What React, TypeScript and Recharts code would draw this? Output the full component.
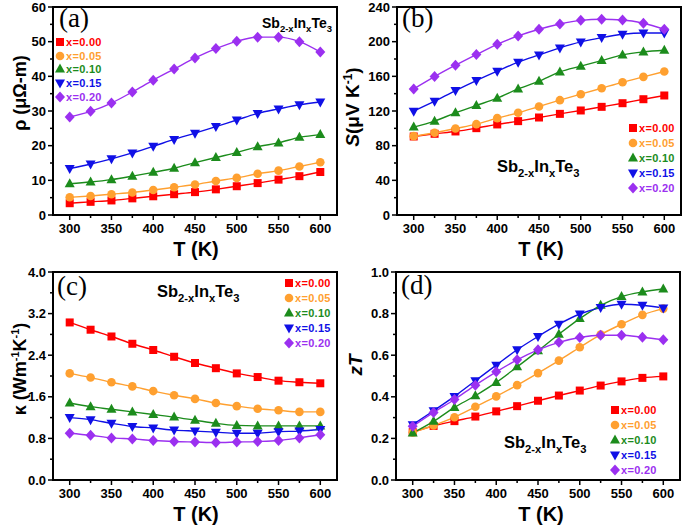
import { LineChart, Line, XAxis, YAxis, ReferenceArea, Legend } from "recharts";

const TEMPS = [300, 325, 350, 375, 400, 425, 450, 475, 500, 525, 550, 575, 600];
const SERIES_NAMES = ["x=0.00", "x=0.05", "x=0.10", "x=0.15", "x=0.20"];
const COLORS = ["#ff0000", "#ffa030", "#1c8c1c", "#1010e6", "#9b30f0"];
const SHAPES = ["square", "circle", "triangle", "down", "diamond"];

// resistivity, uOhm-m
const RHO = [
  [3.4, 3.8, 4.2, 4.8, 5.4, 6.0, 6.6, 7.4, 8.3, 9.2, 10.2, 11.2, 12.4],
  [5.1, 5.5, 6.0, 6.5, 7.2, 8.0, 8.8, 9.8, 10.7, 11.9, 12.8, 14.0, 15.2],
  [9.0, 9.5, 10.2, 11.2, 12.3, 13.5, 15.1, 16.6, 18.0, 19.7, 20.8, 22.4, 23.2],
  [13.4, 14.7, 16.2, 17.9, 19.8, 21.8, 23.6, 25.5, 27.4, 29.3, 30.6, 31.8, 32.6],
  [28.3, 29.9, 32.3, 35.5, 38.9, 42.1, 45.3, 48.0, 50.1, 51.3, 51.3, 50.0, 47.0],
];

// Seebeck, uV/K
const SEEBECK = [
  [90.6, 93.7, 96.4, 100.2, 104.5, 108.3, 112.5, 116.7, 120.6, 124.8, 129.0, 133.6, 137.9],
  [91.0, 94.9, 99.8, 104.8, 111.8, 117.9, 125.2, 132.5, 139.4, 146.3, 153.2, 159.4, 165.5],
  [101.4, 108.3, 117.9, 126.3, 134.8, 145.5, 154.4, 165.1, 171.7, 178.2, 184.7, 188.2, 190.1],
  [119.8, 131.3, 143.6, 155.1, 165.9, 176.3, 184.7, 192.8, 199.7, 204.7, 208.5, 210.0, 210.0],
  [145.5, 159.7, 172.8, 185.1, 197.0, 206.6, 214.3, 220.4, 224.6, 225.8, 225.0, 221.2, 214.3],
];

// thermal conductivity, W/mK
const KAPPA = [
  [3.03, 2.89, 2.76, 2.62, 2.5, 2.37, 2.25, 2.15, 2.05, 1.98, 1.91, 1.88, 1.86],
  [2.05, 1.97, 1.88, 1.8, 1.71, 1.63, 1.56, 1.48, 1.42, 1.37, 1.34, 1.31, 1.31],
  [1.48, 1.41, 1.36, 1.31, 1.26, 1.21, 1.15, 1.09, 1.05, 1.04, 1.04, 1.04, 1.04],
  [1.2, 1.16, 1.09, 1.03, 1.0, 0.96, 0.94, 0.92, 0.9, 0.9, 0.93, 0.94, 0.97],
  [0.9, 0.86, 0.81, 0.79, 0.76, 0.74, 0.73, 0.72, 0.73, 0.74, 0.76, 0.81, 0.87],
];

const ZT = [
  [0.23, 0.26, 0.283, 0.305, 0.33, 0.355, 0.381, 0.406, 0.43, 0.454, 0.474, 0.491, 0.498],
  [0.229, 0.262, 0.302, 0.352, 0.402, 0.456, 0.514, 0.574, 0.638, 0.699, 0.749, 0.794, 0.824],
  [0.226, 0.282, 0.349, 0.405, 0.469, 0.544, 0.621, 0.701, 0.776, 0.84, 0.882, 0.904, 0.918],
  [0.266, 0.333, 0.402, 0.477, 0.552, 0.626, 0.69, 0.749, 0.798, 0.829, 0.845, 0.84, 0.827],
  [0.258, 0.325, 0.387, 0.456, 0.52, 0.578, 0.626, 0.662, 0.685, 0.696, 0.696, 0.686, 0.674],
];

const X_TICKS = [300, 325, 350, 375, 400, 425, 450, 475, 500, 525, 550, 575, 600];
const RHO_TICKS = [0, 5, 10, 15, 20, 25, 30, 35, 40, 45, 50, 55, 60];
const S_TICKS = [0, 20, 40, 60, 80, 100, 120, 140, 160, 180, 200, 220, 240];
const K_TICKS = [0, 0.4, 0.8, 1.2, 1.6, 2.0, 2.4, 2.8, 3.2, 3.6, 4.0];
const ZT_TICKS = [0, 0.1, 0.2, 0.3, 0.4, 0.5, 0.6, 0.7, 0.8, 0.9, 1.0];

const FONT = "Arial, 'Liberation Sans', sans-serif";

function buildRows(values: number[][]) {
  return TEMPS.map((t, i) => {
    const row: any = { T: t };
    values.forEach((s, k) => (row["s" + k] = s[i]));
    return row;
  });
}

function Marker({ cx, cy, shape, color }: any) {
  if (cx == null || cy == null) return null;
  if (shape === "square")
    return <rect x={cx - 4} y={cy - 4} width={8} height={8} fill={color} />;
  if (shape === "circle") return <circle cx={cx} cy={cy} r={4.3} fill={color} />;
  if (shape === "triangle")
    return <polygon points={`${cx},${cy - 5.5} ${cx - 5},${cy + 3.5} ${cx + 5},${cy + 3.5}`} fill={color} />;
  if (shape === "down")
    return <polygon points={`${cx},${cy + 5.5} ${cx - 5},${cy - 3.5} ${cx + 5},${cy - 3.5}`} fill={color} />;
  return <polygon points={`${cx},${cy - 5.5} ${cx + 5},${cy} ${cx},${cy + 5.5} ${cx - 5},${cy}`} fill={color} />;
}

function XTick({ x, y, payload }: any) {
  const v = payload.value;
  const major = (v - 300) % 50 === 0;
  return (
    <g>
      <line x1={x} x2={x} y1={y} y2={y + (major ? 5 : 3)} stroke="#000" strokeWidth={1.5} />
      {major && (
        <text x={x} y={y + 18} textAnchor="middle" fontFamily={FONT} fontWeight="bold" fontSize={13} fill="#000">
          {v}
        </text>
      )}
    </g>
  );
}

function YTick({ x, y, payload, step, digits }: any) {
  const v = payload.value;
  const major = Math.abs(v / step - Math.round(v / step)) < 1e-6;
  return (
    <g>
      <line x1={x} x2={x - (major ? 5 : 3)} y1={y} y2={y} stroke="#000" strokeWidth={1.5} />
      {major && (
        <text x={x - 7} y={y + 4.5} textAnchor="end" fontFamily={FONT} fontWeight="bold" fontSize={13} fill="#000">
          {v.toFixed(digits)}
        </text>
      )}
    </g>
  );
}

function LegendBox({ rowH }: any) {
  return (
    <div>
      {SERIES_NAMES.map((name, k) => (
        <div key={name} style={{ display: "flex", alignItems: "center", height: rowH }}>
          <svg width={12} height={12}>
            <Marker cx={6} cy={6} shape={SHAPES[k]} color={COLORS[k]} />
          </svg>
          <span style={{ fontFamily: FONT, fontWeight: "bold", fontSize: 11, color: COLORS[k], letterSpacing: 0.3 }}>
            {name}
          </span>
        </div>
      ))}
    </div>
  );
}

function Panel({ left, top, values, yMax, yTicks, step, digits, legend }: any) {
  const rows = buildRows(values);
  return (
    <div style={{ position: "absolute", left, top }}>
      <LineChart width={342} height={263} data={rows} margin={{ top: 7, right: 5, bottom: 0, left: 0 }}>
        <XAxis
          dataKey="T"
          type="number"
          domain={[280, 620]}
          ticks={X_TICKS}
          interval={0}
          height={48}
          tickSize={0}
          tickMargin={0}
          axisLine={{ stroke: "#000", strokeWidth: 2 }}
          tick={(p: any) => <XTick {...p} />}
        />
        <YAxis
          type="number"
          domain={[0, yMax]}
          ticks={yTicks}
          interval={0}
          width={53}
          tickSize={0}
          tickMargin={0}
          axisLine={{ stroke: "#000", strokeWidth: 2 }}
          tick={(p: any) => <YTick {...p} step={step} digits={digits} />}
        />
        <ReferenceArea x1={280} x2={620} y1={0} y2={yMax} fill="none" stroke="#000" strokeWidth={2} ifOverflow="visible" />
        {SERIES_NAMES.map((name, k) => (
          <Line
            key={name}
            name={name}
            dataKey={"s" + k}
            type="monotone"
            stroke={COLORS[k]}
            strokeWidth={1.4}
            isAnimationActive={false}
            dot={(p: any) => <Marker key={p.index} cx={p.cx} cy={p.cy} shape={SHAPES[k]} color={COLORS[k]} />}
          />
        ))}
        <Legend
          layout="vertical"
          align="center"
          verticalAlign="middle"
          wrapperStyle={{ left: legend.left, top: legend.top, width: 80 }}
          content={() => <LegendBox rowH={legend.rowH} />}
        />
      </LineChart>
    </div>
  );
}

function Compound({ x, y, size }: any) {
  const sub = size * 0.68;
  const d = size * 0.3;
  return (
    <text x={x} y={y} fontFamily={FONT} fontWeight="bold" fontSize={size} fill="#000">
      Sb
      <tspan fontSize={sub} dy={d}>2-x</tspan>
      <tspan dy={-d}>In</tspan>
      <tspan fontSize={sub} dy={d}>x</tspan>
      <tspan dy={-d}>Te</tspan>
      <tspan fontSize={sub} dy={d}>3</tspan>
    </text>
  );
}

function Letter({ x, y, text }: any) {
  return (
    <text x={x} y={y} fontFamily="'Liberation Serif', 'Times New Roman', serif" fontSize={27} fill="#000">
      {text}
    </text>
  );
}

function XTitle({ x, y }: any) {
  return (
    <text x={x} y={y} textAnchor="middle" fontFamily={FONT} fontWeight="bold" fontSize={20} fill="#000">
      T (K)
    </text>
  );
}

export default function App() {
  return (
    <div style={{ position: "absolute", left: 0, top: 0, width: 685, height: 527, background: "#fff" }}>
      <Panel left={0} top={0} values={RHO} yMax={60} yTicks={RHO_TICKS} step={10} digits={0}
        legend={{ left: 54, top: 35, rowH: 13.8 }} />
      <Panel left={344} top={0} values={SEEBECK} yMax={240} yTicks={S_TICKS} step={40} digits={0}
        legend={{ left: 283, top: 120, rowH: 15 }} />
      <Panel left={0} top={265} values={KAPPA} yMax={4} yTicks={K_TICKS} step={0.8} digits={1}
        legend={{ left: 283, top: 11, rowH: 14.8 }} />
      <Panel left={343} top={265} values={ZT} yMax={1} yTicks={ZT_TICKS} step={0.2} digits={1}
        legend={{ left: 266, top: 137, rowH: 15.2 }} />
      <svg width={685} height={527} style={{ position: "absolute", left: 0, top: 0, pointerEvents: "none" }}>
        <Letter x={59} y={27} text="(a)" />
        <Letter x={402} y={27} text="(b)" />
        <Letter x={57} y={295} text="(c)" />
        <Letter x={401} y={294} text="(d)" />
        <Compound x={262} y={28} size={14} />
        <Compound x={497} y={172} size={16.5} />
        <Compound x={157} y={297} size={16.5} />
        <Compound x={504} y={448} size={16.5} />
        <XTitle x={196} y={256} />
        <XTitle x={541} y={256} />
        <XTitle x={196} y={521} />
        <XTitle x={541} y={521} />
        <text transform="translate(26,93) rotate(-90)" textAnchor="middle" fontFamily={FONT} fontWeight="bold" fontSize={18}>
          ρ (μΩ-m)
        </text>
        <text transform="translate(359,107) rotate(-90)" textAnchor="middle" fontFamily={FONT} fontWeight="bold" fontSize={19}>
          <tspan fontStyle="italic">S</tspan>
          (μV K
          <tspan fontSize={12} dy={-7}>-1</tspan>
          <tspan dy={7}>)</tspan>
        </text>
        <text transform="translate(26,369) rotate(-90)" textAnchor="middle" fontFamily={FONT} fontWeight="bold" fontSize={18}>
          κ (Wm
          <tspan fontSize={11} dy={-7}>-1</tspan>
          <tspan dy={7}>K</tspan>
          <tspan fontSize={11} dy={-7}>-1</tspan>
          <tspan dy={7}>)</tspan>
        </text>
        <text transform="translate(362,365) rotate(-90)" textAnchor="middle" fontFamily={FONT} fontWeight="bold" fontStyle="italic" fontSize={19}>
          zT
        </text>
      </svg>
    </div>
  );
}
